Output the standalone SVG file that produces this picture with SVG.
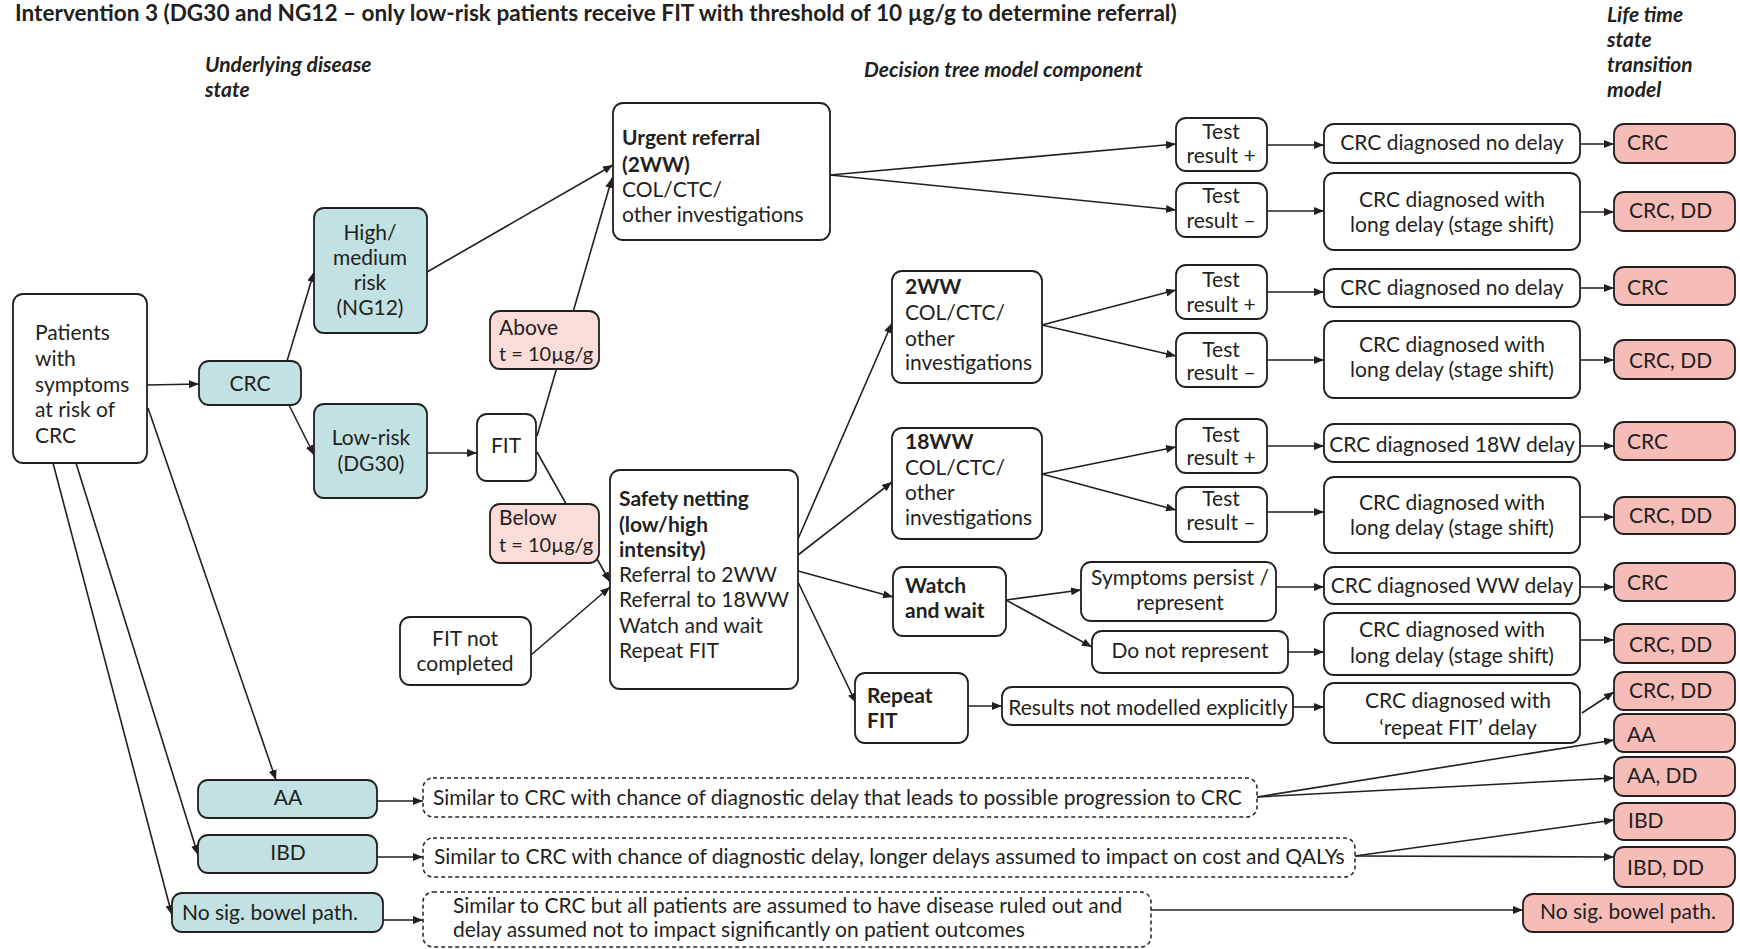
<svg xmlns="http://www.w3.org/2000/svg" width="1740" height="949" viewBox="0 0 1740 949">
<defs>
<marker id="ah" markerUnits="userSpaceOnUse" markerWidth="10" markerHeight="8" refX="10" refY="4" orient="auto">
<path d="M0,0 L10,4 L0,8 z" fill="#231f20"/>
</marker>
<style>
rect{stroke:#231f20;stroke-width:1.8;fill:#fff}
.teal{fill:#c2e1e2}
.pink{fill:#f5bcb8}
.lpink{fill:#fadcd9}
.dash{stroke-dasharray:4 3;stroke-width:1.5}
text{font-family:Lato,"Noto Sans",sans-serif;font-size:21px;fill:#231f20}
.c{text-anchor:middle}
.b{font-weight:bold}
.s{font-size:20px}
.h{font-weight:bold;font-style:italic;font-size:21px}
#connectors path{fill:none;stroke:#231f20;stroke-width:1.6;marker-end:url(#ah)}
</style>
</defs>
<rect width="1740" height="949" style="fill:#fff;stroke:none"/>
<text x="15" y="21" class="b" style="font-size:22.6px">Intervention 3 (DG30 and NG12 – only low-risk patients receive FIT with threshold of 10 µg/g to determine referral)</text>
<text x="205" y="72" class="h">Underlying disease</text>
<text x="205" y="97" class="h">state</text>
<text x="864" y="77" class="h">Decision tree model component</text>
<text x="1607" y="22" class="h">Life time</text>
<text x="1607" y="47" class="h">state</text>
<text x="1607" y="72" class="h">transition</text>
<text x="1607" y="97" class="h">model</text>

<g id="connectors">
<path d="M147,385 L199,384"/>
<path d="M287,361 L314,272"/>
<path d="M289,405 L314,455"/>
<path d="M427,272 L613,165"/>
<path d="M427,453 L477,453"/>
<path d="M537,436 L612,178"/>
<path d="M537,452 L610,582"/>
<path d="M531,655 L610,587"/>
<path d="M830,175 L1176,144"/>
<path d="M830,175 L1176,210"/>
<path d="M798,539 L892,323"/>
<path d="M798,555 L892,482"/>
<path d="M798,571 L893,597"/>
<path d="M798,582 L856,703"/>
<path d="M1042,325 L1176,290"/>
<path d="M1042,325 L1176,356"/>
<path d="M1042,474 L1176,447"/>
<path d="M1042,474 L1176,510"/>
<path d="M1006,600 L1081,590"/>
<path d="M1006,600 L1092,647"/>
<path d="M968,706 L1002,706"/>
<path d="M1267,145 L1324,145"/>
<path d="M1267,211 L1324,211"/>
<path d="M1267,292 L1324,292"/>
<path d="M1267,360 L1324,360"/>
<path d="M1267,446 L1324,446"/>
<path d="M1267,512 L1324,512"/>
<path d="M1276,587 L1324,587"/>
<path d="M1288,652 L1324,652"/>
<path d="M1293,707 L1324,707"/>
<path d="M1580,144 L1614,144"/>
<path d="M1580,212 L1614,212"/>
<path d="M1580,288 L1614,288"/>
<path d="M1580,360 L1614,360"/>
<path d="M1580,446 L1614,446"/>
<path d="M1580,517 L1614,517"/>
<path d="M1580,587 L1614,587"/>
<path d="M1580,640 L1614,640"/>
<path d="M1582,713 L1614,692"/>
<path d="M1257,797 L1614,740"/>
<path d="M1257,797 L1614,778"/>
<path d="M1355,856 L1614,820"/>
<path d="M1355,856 L1614,857"/>
<path d="M1151,910 L1523,910"/>
<path d="M148,408 L276,780"/>
<path d="M76,463 L198,855"/>
<path d="M53,463 L172,915"/>
<path d="M377,801 L423,801"/>
<path d="M377,857 L423,857"/>
<path d="M383,920 L423,920"/>
</g>

<g id="patients"><rect x="13" y="294" width="134" height="169" rx="10"/>
<text x="35" y="340">Patients</text><text x="35" y="366">with</text><text x="35" y="392">symptoms</text><text x="35" y="417">at risk of</text><text x="35" y="443">CRC</text></g>
<g id="crc"><rect class="teal" x="199" y="361" width="102" height="44" rx="10"/><text class="c" x="250" y="391">CRC</text></g>
<g id="high"><rect class="teal" x="314" y="208" width="113" height="125" rx="10"/>
<text class="c" x="370" y="240">High/</text><text class="c" x="370" y="265">medium</text><text class="c" x="370" y="290">risk</text><text class="c" x="370" y="315">(NG12)</text></g>
<g id="low"><rect class="teal" x="314" y="404" width="113" height="94" rx="10"/>
<text class="c" x="371" y="445">Low-risk</text><text class="c" x="371" y="471">(DG30)</text></g>
<g id="fit"><rect x="477" y="414" width="59" height="67" rx="10"/><text class="c" x="506" y="453">FIT</text></g>
<g id="above"><rect class="lpink" x="490" y="311" width="109" height="58" rx="10"/>
<text x="499" y="335">Above</text><text class="s" x="499" y="361">t = 10µg/g</text></g>
<g id="below"><rect class="lpink" x="490" y="504" width="109" height="59" rx="10"/>
<text x="499" y="525">Below</text><text class="s" x="499" y="552">t = 10µg/g</text></g>
<g id="fitnc"><rect x="400" y="617" width="131" height="68" rx="10"/>
<text class="c" x="465" y="646">FIT not</text><text class="c" x="465" y="671">completed</text></g>
<g id="urgent"><rect x="613" y="103" width="217" height="137" rx="10"/>
<text class="b" x="622" y="145">Urgent referral</text><text class="b" x="622" y="172">(2WW)</text><text x="622" y="197">COL/CTC/</text><text x="622" y="222">other investigations</text></g>
<g id="safety"><rect x="610" y="470" width="188" height="219" rx="10"/>
<text class="b" x="619" y="506">Safety netting</text><text class="b" x="619" y="532">(low/high</text><text class="b" x="619" y="557">intensity)</text>
<text x="619" y="582">Referral to 2WW</text><text x="619" y="607">Referral to 18WW</text><text x="619" y="633">Watch and wait</text><text x="619" y="658">Repeat FIT</text></g>
<g id="tww"><rect x="892" y="271" width="150" height="112" rx="10"/>
<text class="b" x="905" y="294">2WW</text><text x="905" y="320">COL/CTC/</text><text x="905" y="346">other</text><text x="905" y="370">investigations</text></g>
<g id="eww"><rect x="892" y="428" width="150" height="111" rx="10"/>
<text class="b" x="905" y="449">18WW</text><text x="905" y="475">COL/CTC/</text><text x="905" y="500">other</text><text x="905" y="525">investigations</text></g>
<g id="watch"><rect x="893" y="567" width="113" height="69" rx="10"/>
<text class="b" x="905" y="593">Watch</text><text class="b" x="905" y="618">and wait</text></g>
<g id="repeat"><rect x="855" y="673" width="113" height="70" rx="10"/>
<text class="b" x="867" y="703">Repeat</text><text class="b" x="867" y="728">FIT</text></g>

<g id="test1"><rect x="1176" y="118" width="91" height="53" rx="10"/><text class="c" x="1221" y="139">Test</text><text class="c" x="1221" y="163">result +</text></g>
<g id="test2"><rect x="1176" y="183" width="91" height="54" rx="10"/><text class="c" x="1221" y="203">Test</text><text class="c" x="1221" y="228">result –</text></g>
<g id="test3"><rect x="1176" y="265" width="91" height="54" rx="10"/><text class="c" x="1221" y="287">Test</text><text class="c" x="1221" y="312">result +</text></g>
<g id="test4"><rect x="1176" y="333" width="91" height="54" rx="10"/><text class="c" x="1221" y="357">Test</text><text class="c" x="1221" y="380">result –</text></g>
<g id="test5"><rect x="1176" y="419" width="91" height="54" rx="10"/><text class="c" x="1221" y="442">Test</text><text class="c" x="1221" y="465">result +</text></g>
<g id="test6"><rect x="1176" y="487" width="91" height="55" rx="10"/><text class="c" x="1221" y="506">Test</text><text class="c" x="1221" y="530">result –</text></g>

<g id="symptoms"><rect x="1081" y="562" width="195" height="59" rx="10"/><text class="c" x="1180" y="585">Symptoms persist /</text><text class="c" x="1180" y="610">represent</text></g>
<g id="dnr"><rect x="1092" y="631" width="196" height="42" rx="10"/><text class="c" x="1190" y="658">Do not represent</text></g>
<g id="rnm"><rect x="1002" y="687" width="291" height="38" rx="10"/><text class="c" x="1148" y="715">Results not modelled explicitly</text></g>

<g id="nd1"><rect x="1324" y="124" width="256" height="39" rx="10"/><text class="c" x="1452" y="150">CRC diagnosed no delay</text></g>
<g id="ld1"><rect x="1324" y="173" width="256" height="77" rx="10"/><text class="c" x="1452" y="207">CRC diagnosed with</text><text class="c" x="1452" y="232">long delay (stage shift)</text></g>
<g id="nd2"><rect x="1324" y="269" width="256" height="38" rx="10"/><text class="c" x="1452" y="295">CRC diagnosed no delay</text></g>
<g id="ld2"><rect x="1324" y="321" width="256" height="77" rx="10"/><text class="c" x="1452" y="352">CRC diagnosed with</text><text class="c" x="1452" y="377">long delay (stage shift)</text></g>
<g id="d18"><rect x="1324" y="424" width="256" height="38" rx="10"/><text class="c" x="1452" y="452">CRC diagnosed 18W delay</text></g>
<g id="ld3"><rect x="1324" y="477" width="256" height="76" rx="10"/><text class="c" x="1452" y="510">CRC diagnosed with</text><text class="c" x="1452" y="535">long delay (stage shift)</text></g>
<g id="dww"><rect x="1324" y="567" width="256" height="37" rx="10"/><text class="c" x="1452" y="593">CRC diagnosed WW delay</text></g>
<g id="ld4"><rect x="1324" y="613" width="256" height="62" rx="10"/><text class="c" x="1452" y="637">CRC diagnosed with</text><text class="c" x="1452" y="663">long delay (stage shift)</text></g>
<g id="drf"><rect x="1324" y="683" width="256" height="60" rx="10"/><text class="c" x="1458" y="708">CRC diagnosed with</text><text class="c" x="1458" y="735">‘repeat FIT’ delay</text></g>

<g id="s1"><rect class="pink" x="1614" y="124" width="121" height="39" rx="10"/><text x="1627" y="150">CRC</text></g>
<g id="s2"><rect class="pink" x="1614" y="192" width="121" height="39" rx="10"/><text x="1629" y="218">CRC, DD</text></g>
<g id="s3"><rect class="pink" x="1614" y="267" width="121" height="38" rx="10"/><text x="1627" y="295">CRC</text></g>
<g id="s4"><rect class="pink" x="1614" y="340" width="121" height="39" rx="10"/><text x="1629" y="368">CRC, DD</text></g>
<g id="s5"><rect class="pink" x="1614" y="422" width="121" height="38" rx="10"/><text x="1627" y="449">CRC</text></g>
<g id="s6"><rect class="pink" x="1614" y="497" width="121" height="37" rx="10"/><text x="1629" y="523">CRC, DD</text></g>
<g id="s7"><rect class="pink" x="1614" y="563" width="121" height="38" rx="10"/><text x="1627" y="590">CRC</text></g>
<g id="s8"><rect class="pink" x="1614" y="624" width="121" height="39" rx="10"/><text x="1629" y="652">CRC, DD</text></g>
<g id="s9"><rect class="pink" x="1614" y="672" width="121" height="38" rx="10"/><text x="1629" y="698">CRC, DD</text></g>
<g id="s10"><rect class="pink" x="1614" y="714" width="121" height="38" rx="10"/><text x="1627" y="742">AA</text></g>
<g id="s11"><rect class="pink" x="1614" y="757" width="121" height="39" rx="10"/><text x="1627" y="783">AA, DD</text></g>
<g id="s12"><rect class="pink" x="1614" y="803" width="121" height="37" rx="10"/><text x="1628" y="828">IBD</text></g>
<g id="s13"><rect class="pink" x="1614" y="847" width="121" height="40" rx="10"/><text x="1627" y="875">IBD, DD</text></g>
<g id="s14"><rect class="pink" x="1523" y="894" width="210" height="38" rx="10"/><text class="c" x="1628" y="919">No sig. bowel path.</text></g>

<g id="aa"><rect class="teal" x="198" y="780" width="179" height="38" rx="10"/><text class="c" x="288" y="805">AA</text></g>
<g id="ibd"><rect class="teal" x="198" y="835" width="179" height="38" rx="10"/><text class="c" x="288" y="860">IBD</text></g>
<g id="nosig"><rect class="teal" x="172" y="893" width="211" height="39" rx="10"/><text x="182" y="920">No sig. bowel path.</text></g>

<g id="aadesc"><rect class="dash" x="423" y="778" width="834" height="39" rx="10"/><text x="433" y="805">Similar to CRC with chance of diagnostic delay that leads to possible progression to CRC</text></g>
<g id="ibddesc"><rect class="dash" x="423" y="838" width="932" height="39" rx="10"/><text x="434" y="864">Similar to CRC with chance of diagnostic delay, longer delays assumed to impact on cost and QALYs</text></g>
<g id="nosigdesc"><rect class="dash" x="423" y="892" width="728" height="55" rx="10"/><text x="453" y="913">Similar to CRC but all patients are assumed to have disease ruled out and</text><text x="453" y="937">delay assumed not to impact significantly on patient outcomes</text></g>
</svg>
